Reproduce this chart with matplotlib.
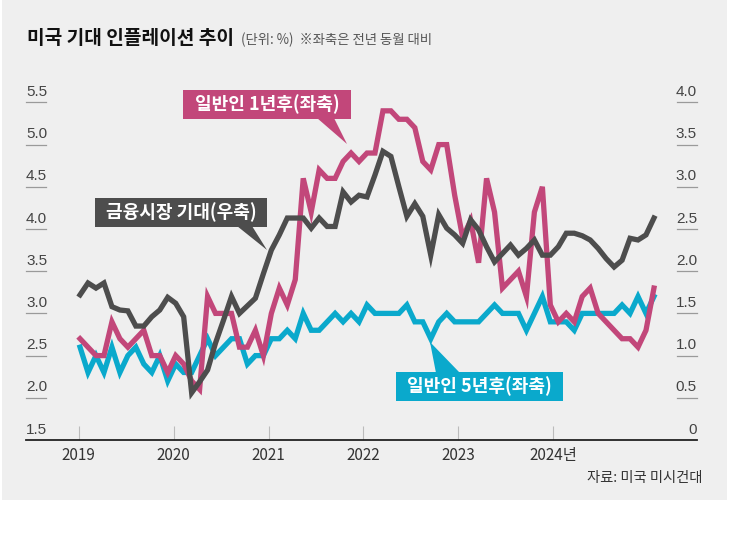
import numpy as np
import matplotlib.pyplot as plt
from matplotlib.patches import Rectangle, Polygon

plt.rcParams['font.family'] = ['Noto Sans CJK KR', 'DejaVu Sans']

# monthly data, Jan 2019 .. Jan 2025
consumer_1y = [2.7, 2.6, 2.5, 2.5, 2.9, 2.7, 2.6, 2.7, 2.8, 2.5, 2.5, 2.3,
               2.5, 2.4, 2.2, 2.1, 3.2, 3.0, 3.0, 3.0, 2.6, 2.6, 2.8, 2.5,
               3.0, 3.3, 3.1, 3.4, 4.6, 4.2, 4.7, 4.6, 4.6, 4.8, 4.9, 4.8,
               4.9, 4.9, 5.4, 5.4, 5.3, 5.3, 5.2, 4.8, 4.7, 5.0, 5.0, 4.4,
               3.9, 4.1, 3.6, 4.6, 4.2, 3.3, 3.4, 3.5, 3.2, 4.2, 4.5, 3.1,
               2.9, 3.0, 2.9, 3.2, 3.3, 3.0, 2.9, 2.8, 2.7, 2.7, 2.6, 2.8,
               3.3]
consumer_5y = [2.6, 2.3, 2.5, 2.3, 2.6, 2.3, 2.5, 2.6, 2.4, 2.3, 2.5, 2.2,
               2.4, 2.3, 2.3, 2.5, 2.7, 2.5, 2.6, 2.7, 2.7, 2.4, 2.5, 2.5,
               2.7, 2.7, 2.8, 2.7, 3.0, 2.8, 2.8, 2.9, 3.0, 2.9, 3.0, 2.9,
               3.1, 3.0, 3.0, 3.0, 3.0, 3.1, 2.9, 2.9, 2.7, 2.9, 3.0, 2.9,
               2.9, 2.9, 2.9, 3.0, 3.1, 3.0, 3.0, 3.0, 2.8, 3.0, 3.2, 2.9,
               2.9, 2.9, 2.8, 3.0, 3.0, 3.0, 3.0, 3.0, 3.1, 3.0, 3.2, 3.0,
               3.2]
market = [1.72, 1.86, 1.80, 1.86, 1.58, 1.54, 1.53, 1.35, 1.35, 1.46, 1.54, 1.69,
          1.62, 1.46, 0.56, 0.69, 0.83, 1.15, 1.42, 1.70, 1.50, 1.59, 1.68, 1.97,
          2.25, 2.43, 2.63, 2.63, 2.63, 2.51, 2.63, 2.53, 2.53, 2.94, 2.82, 2.90,
          2.88, 3.14, 3.42, 3.36, 3.00, 2.65, 2.80, 2.65, 2.19, 2.67, 2.51, 2.43,
          2.33, 2.61, 2.49, 2.29, 2.11, 2.21, 2.31, 2.19, 2.27, 2.37, 2.19, 2.19,
          2.29, 2.45, 2.45, 2.42, 2.37, 2.27, 2.15, 2.05, 2.13, 2.39, 2.37, 2.43,
          2.63]
year_labels = ['2019', '2020', '2021', '2022', '2023', '2024년']
left_ticks = [1.5, 2.0, 2.5, 3.0, 3.5, 4.0, 4.5, 5.0, 5.5]
right_ticks = [0, 0.5, 1.0, 1.5, 2.0, 2.5, 3.0, 3.5, 4.0]

PINK = '#c2477a'
TEAL = '#0aa9cc'
DARK = '#4d4d4d'
BG = '#efefef'

W, H = 729, 542


def fx(px):
    return px / W


def fy(py):
    return 1 - py / H


fig = plt.figure(figsize=(W / 100, H / 100), dpi=100)
fig.patch.set_facecolor('white')
fig.patches.append(Rectangle((fx(2), fy(500)), fx(725), 500 / H, transform=fig.transFigure,
                             facecolor=BG, edgecolor='none', zorder=-10))

ax = fig.add_axes([fx(26), fy(440), fx(671), (440 - 102.4) / H])
ax.set_facecolor('none')
ax2 = ax.twinx()
ax2.set_facecolor('none')

x = np.arange(len(consumer_1y))
ax.plot(x, consumer_5y, color=TEAL, lw=3.8, solid_joinstyle='miter', zorder=2)
ax.plot(x, consumer_1y, color=PINK, lw=3.8, solid_joinstyle='miter', zorder=3)
ax2.plot(x, market, color=DARK, lw=3.8, solid_joinstyle='miter', zorder=4)

ax.set_xlim(-6.78, 77.4)
ax.set_ylim(1.5, 5.5)
ax2.set_ylim(0, 4)

for a in (ax, ax2):
    for s in ('top', 'left', 'right'):
        a.spines[s].set_visible(False)
    a.set_yticks([])
ax2.spines['bottom'].set_visible(False)
ax.spines['bottom'].set_color('#222222')
ax.spines['bottom'].set_linewidth(1.3)

ax.set_xticks([k * 11.9 - 0.15 for k in range(len(year_labels))])
ax.set_xticklabels(year_labels, fontsize=11, color='#333333')
ax.tick_params(axis='x', direction='in', length=10, width=0.8, color='#bbbbbb', pad=5)

num_font = ['Liberation Sans Narrow', 'Liberation Sans', 'DejaVu Sans']
ul = 20 / 671
tl = ax.get_yaxis_transform()
for v in left_ticks:
    ax.text(0, v + 0.04, f'{v:.1f}', transform=tl, ha='left', va='bottom',
            fontsize=11, color='#444444', family=num_font)
    if v > left_ticks[0]:
        ax.plot([0, ul], [v, v], transform=tl, color='#9a9a9a', lw=0.9, clip_on=False)
tr = ax2.get_yaxis_transform()
for v in right_ticks:
    lab = '0' if v == 0 else f'{v:.1f}'
    ax2.text(1, v + 0.04, lab, transform=tr, ha='right', va='bottom',
             fontsize=11, color='#444444', family=num_font)
    if v > right_ticks[0]:
        ax2.plot([1 - ul, 1], [v, v], transform=tr, color='#9a9a9a', lw=0.9, clip_on=False)

# title
fig.text(fx(27), fy(39), '미국 기대 인플레이션 추이', fontsize=13.8, fontweight='bold',
         color='#111111', va='center', ha='left')
fig.text(fx(241), fy(40), '(단위: %)  ※좌축은 전년 동월 대비', fontsize=9.6, color='#555555',
         va='center', ha='left')
fig.text(fx(702), fy(478), '자료: 미국 미시건대', fontsize=10.3, color='#333333',
         va='center', ha='right')


def label_box(x0, y0, x1, y1, tail, text, color):
    fig.patches.append(Rectangle((fx(x0), fy(y1)), fx(x1 - x0), (y1 - y0) / H,
                                 transform=fig.transFigure, facecolor=color,
                                 edgecolor='none', zorder=5))
    fig.patches.append(Polygon([(fx(px), fy(py)) for px, py in tail], closed=True,
                               transform=fig.transFigure, facecolor=color,
                               edgecolor='none', zorder=5))
    fig.text(fx((x0 + x1) / 2), fy((y0 + y1) / 2), text, fontsize=13, fontweight='bold',
             color='white', ha='center', va='center', zorder=6)


label_box(183, 90, 351, 119, [(317, 118), (334, 118), (347, 144)], '일반인 1년후(좌축)', PINK)
label_box(95, 198, 267, 227, [(237, 226), (252, 226), (267, 250)], '금융시장 기대(우축)', DARK)
label_box(396, 372, 563, 401, [(436, 373), (460, 373), (430, 342)], '일반인 5년후(좌축)', TEAL)

fig.savefig('out.png', dpi=100, facecolor=fig.get_facecolor())
